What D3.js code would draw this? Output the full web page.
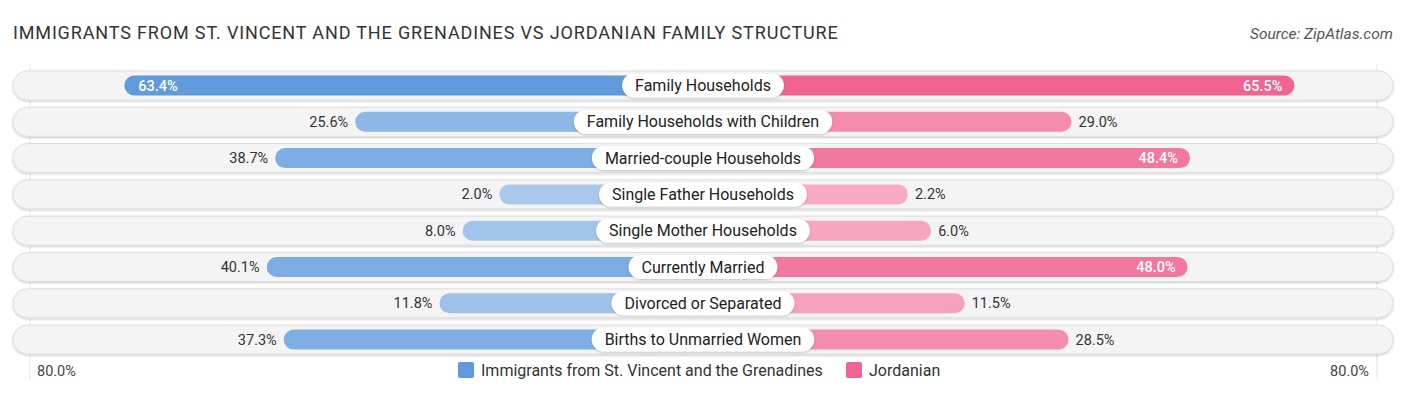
<!DOCTYPE html>
<meta charset="utf-8">
<head>
  <title>Family Structure</title>
  <script src="https://d3js.org/d3.v7.min.js"></script>
  <style>
    body { margin: 0; background: #fff; font-family: Roboto, "Open Sans", sans-serif; }
    svg { display: block; }
  </style>
</head>
<body>
<svg></svg>
<script>
var categories = ["Family Households", "Family Households with Children", "Married-couple Households",
  "Single Father Households", "Single Mother Households", "Currently Married",
  "Divorced or Separated", "Births to Unmarried Women"];
var immigrants = [63.4, 25.6, 38.7, 2.0, 8.0, 40.1, 11.8, 37.3];
var jordanian = [65.5, 29.0, 48.4, 2.2, 6.0, 48.0, 11.5, 28.5];
var seriesNames = ["Immigrants from St. Vincent and the Grenadines", "Jordanian"];
var axisLabel = "80.0%";

var width = 1406, height = 395;
var cx = 703;
var rowTop = 71, rowStep = 36.3, rowH = 29, barH = 20;

var svg = d3.select("svg").attr("width", width).attr("height", height);

var defs = svg.append("defs");
var f = defs.append("filter").attr("id", "shadow").attr("x", "-10%").attr("y", "-30%").attr("width", "120%").attr("height", "160%");
f.append("feDropShadow").attr("dx", 0).attr("dy", 1).attr("stdDeviation", 1.2).attr("flood-color", "#000").attr("flood-opacity", 0.22);

// half-length of a bar from the center
var len = d3.scaleLinear().domain([0, 80]).range([191.5, 680]);
var blue = d3.scaleLinear().domain([0, 65]).range(["#abcaec", "#5e9adb"]);
var pink = d3.scaleLinear().domain([0, 65]).range(["#f7adc4", "#f0658f"]);

svg.append("text").attr("x", 13).attr("y", 39)
  .style("font-size", "18px").style("fill", "#333").style("letter-spacing", "0.85px")
  .text("IMMIGRANTS FROM ST. VINCENT AND THE GRENADINES VS JORDANIAN FAMILY STRUCTURE");
svg.append("text").attr("x", 1393).attr("y", 39).attr("text-anchor", "end")
  .style("font-size", "15.5px").style("font-style", "italic").style("fill", "#555")
  .text("Source: ZipAtlas.com");

// faint gridlines at 80%
[cx - 673, cx + 674].forEach(function(x) {
  svg.append("line").attr("x1", x).attr("x2", x).attr("y1", 64).attr("y2", 380)
    .style("stroke", "#e4e4e4").style("stroke-width", 1);
});

var rows = svg.selectAll(".row").data(categories).enter().append("g")
  .attr("class", "row")
  .attr("transform", function(d, i) { return "translate(0," + (rowTop + i * rowStep) + ")"; });

rows.append("rect").attr("x", 13).attr("y", 0).attr("width", 1380).attr("height", rowH)
  .attr("rx", rowH / 2).style("fill", "#f4f4f4").style("stroke", "#dedede").style("stroke-width", 1)
  .attr("filter", "url(#shadow)");

var by = (rowH - barH) / 2;
rows.append("rect")
  .attr("x", function(d, i) { return cx - len(immigrants[i]); })
  .attr("y", by).attr("height", barH)
  .attr("width", function(d, i) { return len(immigrants[i]); })
  .attr("rx", barH / 2)
  .style("fill", function(d, i) { return blue(immigrants[i]); });

rows.append("rect")
  .attr("x", cx)
  .attr("y", by).attr("height", barH)
  .attr("width", function(d, i) { return len(jordanian[i]); })
  .attr("rx", barH / 2)
  .style("fill", function(d, i) { return pink(jordanian[i]); });

// value labels
rows.append("text")
  .attr("y", rowH / 2 + 5)
  .each(function(d, i) {
    var v = immigrants[i], inside = v > 45, x = cx - len(v);
    d3.select(this).attr("x", inside ? x + 14 : x - 7)
      .attr("text-anchor", inside ? "start" : "end")
      .style("fill", inside ? "#fff" : "#333")
      .style("font-weight", inside ? 500 : 400);
  })
  .style("font-size", "14.5px")
  .text(function(d, i) { return immigrants[i].toFixed(1) + "%"; });

rows.append("text")
  .attr("y", rowH / 2 + 5)
  .each(function(d, i) {
    var v = jordanian[i], inside = v > 45, x = cx + len(v);
    d3.select(this).attr("x", inside ? x - 12 : x + 7)
      .attr("text-anchor", inside ? "end" : "start")
      .style("fill", inside ? "#fff" : "#333")
      .style("font-weight", inside ? 500 : 400);
  })
  .style("font-size", "14.5px")
  .text(function(d, i) { return jordanian[i].toFixed(1) + "%"; });

// category pills
rows.each(function(d) {
  var g = d3.select(this);
  var t = g.append("text").attr("x", cx).attr("y", rowH / 2 + 5.5)
    .attr("text-anchor", "middle").style("font-size", "16px").style("fill", "#222").text(d);
  var w = t.node().getComputedTextLength() + 26;
  g.insert("rect", function() { return t.node(); })
    .attr("x", cx - w / 2).attr("y", rowH / 2 - 12).attr("width", w).attr("height", 24)
    .attr("rx", 12).style("fill", "#fff").attr("filter", "url(#shadow)");
});

// axis labels
svg.append("text").attr("x", 37).attr("y", 376).style("font-size", "14.5px").style("fill", "#444").text(axisLabel);
svg.append("text").attr("x", 1369).attr("y", 376).attr("text-anchor", "end").style("font-size", "14.5px").style("fill", "#444").text(axisLabel);

// legend
var legend = [{ name: seriesNames[0], color: "#5e9adb", x: 458 }, { name: seriesNames[1], color: "#f0658f", x: 846 }];
var lg = svg.selectAll(".legend").data(legend).enter().append("g").attr("class", "legend")
  .attr("transform", function(d) { return "translate(" + d.x + ",362)"; });
lg.append("rect").attr("width", 16).attr("height", 16).attr("rx", 2).style("fill", function(d) { return d.color; });
lg.append("text").attr("x", 23).attr("y", 13.5).style("font-size", "16px").style("fill", "#333").text(function(d) { return d.name; });
</script>
</body>
